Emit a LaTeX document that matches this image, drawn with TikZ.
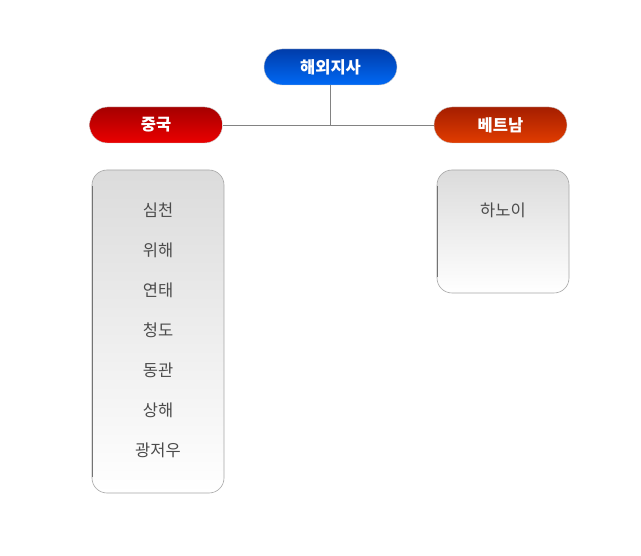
\documentclass[tikz,border=0pt]{standalone}
\usepackage{fontspec}
\newfontfamily\kr{Noto Sans CJK KR}
\usetikzlibrary{positioning}
\definecolor{hqtop}{RGB}{0,60,170}
\definecolor{hqbot}{RGB}{0,105,245}
\definecolor{cntop}{RGB}{165,0,0}
\definecolor{cnbot}{RGB}{235,0,0}
\definecolor{vntop}{RGB}{165,30,0}
\definecolor{vnbot}{RGB}{225,60,0}
\definecolor{linkgray}{RGB}{130,130,130}
\definecolor{itemtext}{RGB}{75,75,75}
\tikzset{
	head/.style={rounded corners=18pt, minimum width=133pt, minimum height=36pt,
		draw=black!20, text=white, font=\kr\bfseries\fontsize{16.5}{17}\selectfont},
	listbox/.style={rounded corners=15pt, top color=black!14, bottom color=white,
		draw=black!35, line width=0.6pt},
	item/.style={text=itemtext, font=\kr\fontsize{16.5}{17}\selectfont}
}
\begin{document}
\begin{tikzpicture}[x=1pt,y=-1pt]
		\useasboundingbox[fill=white] (0,0) rectangle (641,556);

		% title nodes
		\node[head, top color=hqtop, bottom color=hqbot] (hq) at (330.5,67) {해외지사};
		\node[head, top color=cntop, bottom color=cnbot] (cn) at (156,125) {중국};
		\node[head, top color=vntop, bottom color=vnbot] (vn) at (500.5,125) {베트남};

		% links
		\coordinate (joint) at (hq.south |- cn.east);
		\draw[linkgray, line width=0.8pt] (hq.south) -- (joint);
		\draw[linkgray, line width=0.8pt] (cn.east) -- (vn.west);

		% branch lists
		\draw[listbox] (92,170) rectangle (224,493);
		\draw[listbox] (437,170) rectangle (569,293);
		\draw[black!55, line width=1pt] (92.5,186) -- (92.5,477);
		\draw[black!55, line width=1pt] (437.5,186) -- (437.5,277);

		\foreach \name [count=\i] in {심천,위해,연태,청도,동관,상해,광저우}
			\node[item] (cn\i) at (158,170+40*\i) {\name};
		\node[item] (vn1) at (503,210) {하노이};
	\end{tikzpicture}
\end{document}
